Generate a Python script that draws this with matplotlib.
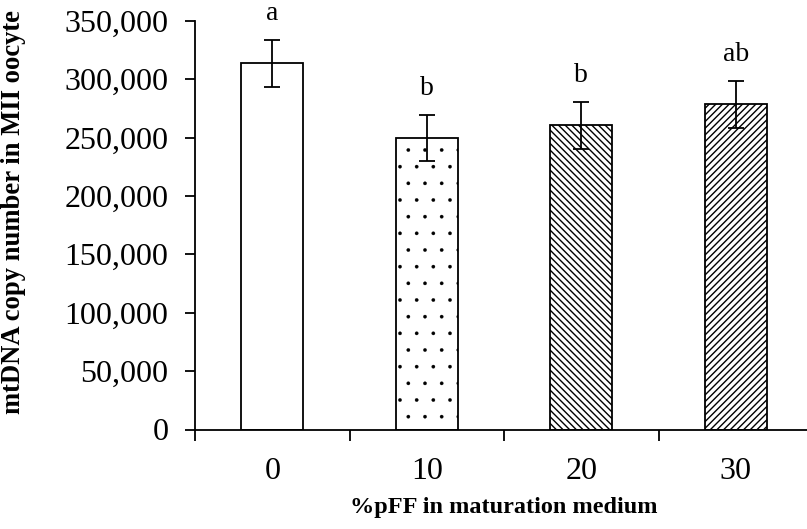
import numpy as np
import matplotlib
matplotlib.use('Agg')
from matplotlib import pyplot as plt
from matplotlib.ticker import FuncFormatter

plt.rcParams['font.family'] = ['Liberation Serif', 'DejaVu Serif']
plt.rcParams['hatch.linewidth'] = 1.0

# data
groups = ['0', '10', '20', '30']
copies = [313500, 249500, 260500, 278500]
sem = [20000, 20000, 20000, 20000]
letters = ['a', 'b', 'b', 'ab']
hatches = ['', '.', '\\\\\\\\\\', '/////']

fig = plt.figure(figsize=(8.07, 5.29), dpi=100)
ax = fig.add_axes([195 / 807, 99.5 / 529, 618 / 807, 408.8 / 529])

x = np.arange(len(groups))
for i in range(len(groups)):
    b = ax.bar(x[i], copies[i], width=0.4, color='white', edgecolor='black',
               linewidth=1.3, hatch=hatches[i], zorder=2)
    if hatches[i] == '.' and hasattr(b[0], 'set_hatch_linewidth'):
        b[0].set_hatch_linewidth(0.2)
ax.errorbar(x, copies, yerr=sem, fmt='none', ecolor='black', elinewidth=1.3,
            capsize=6, capthick=1.3, zorder=3)
for i in range(len(groups)):
    ax.annotate(letters[i], (x[i], copies[i] + sem[i]), xytext=(0, 10),
                textcoords='offset points', ha='center', va='bottom',
                fontsize=20)

ax.set_xlim(-0.5, 3.5)
ax.set_ylim(0, 350000)
ax.set_yticks(np.arange(0, 350001, 50000))
ax.yaxis.set_major_formatter(FuncFormatter(lambda v, p: f'{int(v):,}'))
ax.set_xticks(np.arange(-0.5, 4, 1))
ax.set_xticklabels([])
ax.set_xticks(x, minor=True)
ax.set_xticklabels(groups, minor=True)
ax.tick_params(axis='x', which='minor', length=0, pad=20, labelsize=23)
ax.tick_params(axis='x', which='major', length=8, width=1.3)
ax.tick_params(axis='y', length=7, width=1.3, labelsize=23, pad=12)

for s in ['top', 'right']:
    ax.spines[s].set_visible(False)
for s in ['left', 'bottom']:
    ax.spines[s].set_linewidth(1.3)

ax.set_xlabel('%pFF in maturation medium', fontsize=17.5, fontweight='bold', labelpad=8)
ax.set_ylabel('mtDNA copy number in MII oocyte', fontsize=19.2, fontweight='bold')
ax.yaxis.set_label_coords(-0.273, 0.532)

fig.savefig('out.png', dpi=100)
